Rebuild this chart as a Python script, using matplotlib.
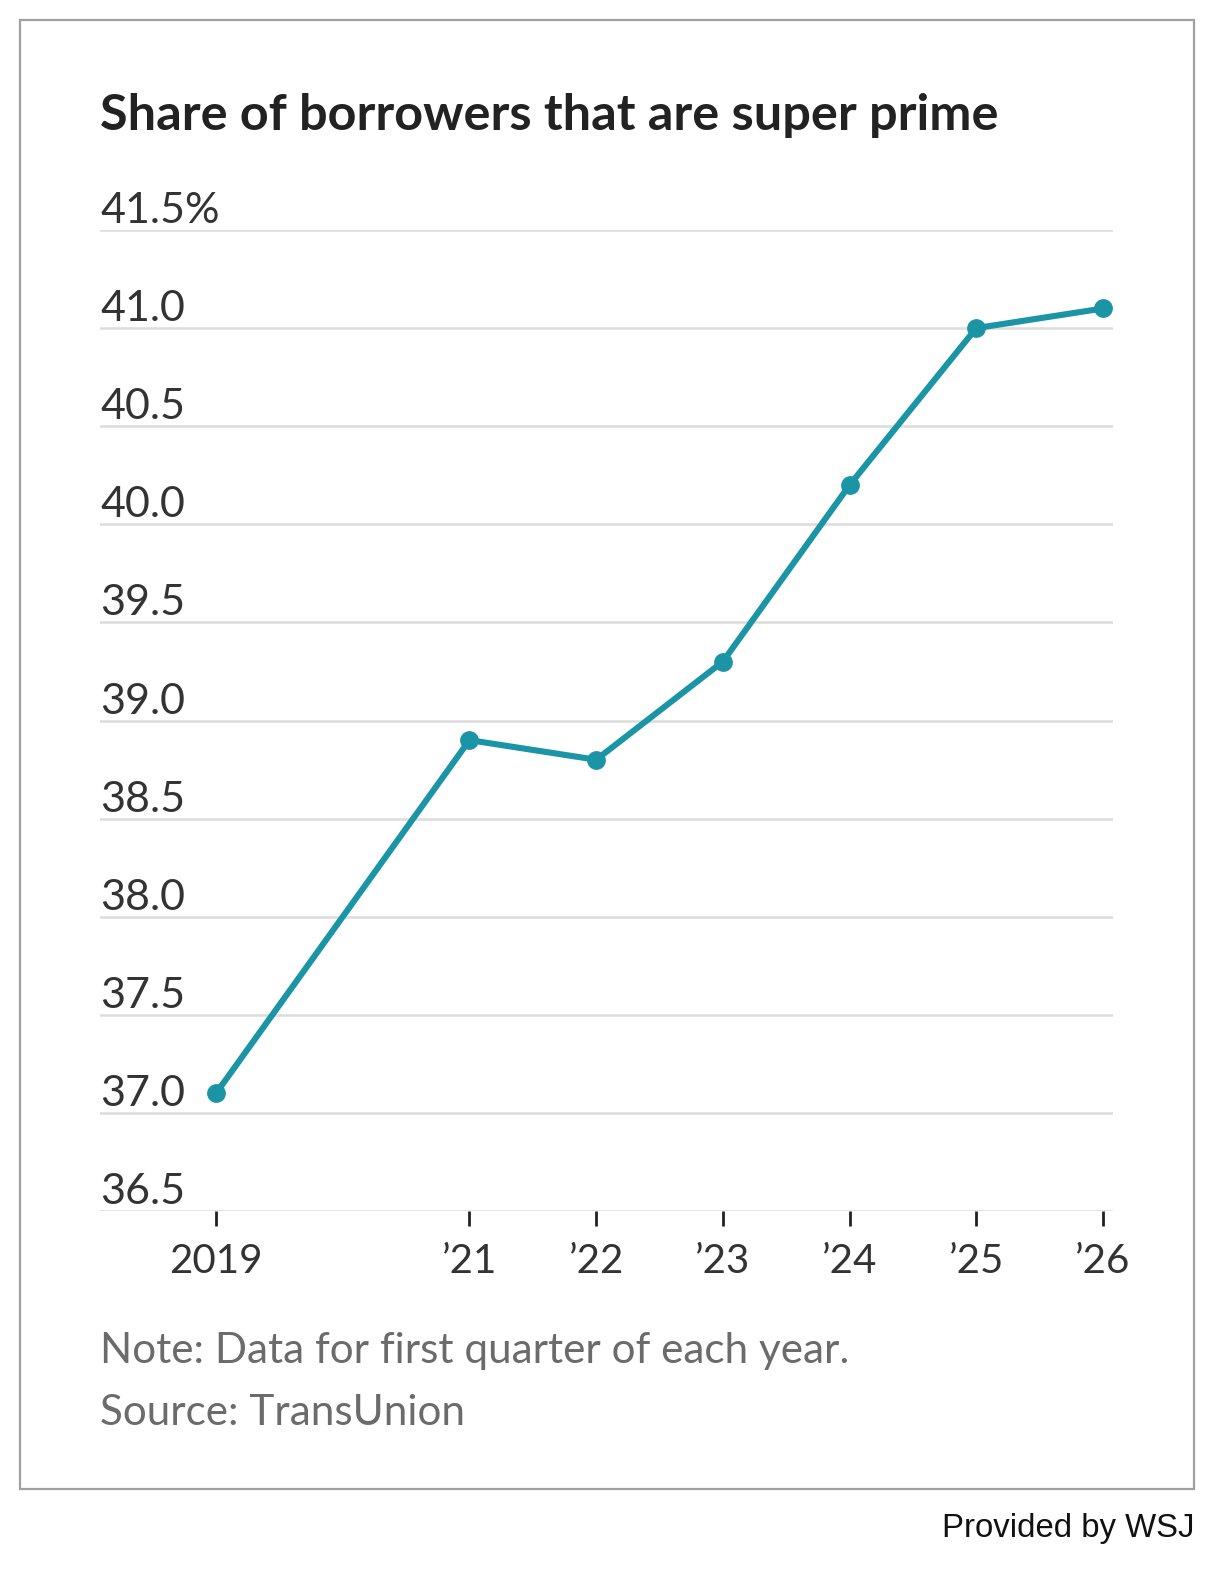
import matplotlib.pyplot as plt
from matplotlib.patches import Rectangle
from matplotlib import transforms

# data (first quarter of each year)
years = [2019, 2021, 2022, 2023, 2024, 2025, 2026]
share = [37.1, 38.9, 38.8, 39.3, 40.2, 41.0, 41.1]
year_labels = ["2019", "\u201921", "\u201922", "\u201923", "\u201924", "\u201925", "\u201926"]
y_ticks = [36.5, 37.0, 37.5, 38.0, 38.5, 39.0, 39.5, 40.0, 40.5, 41.0, 41.5]
y_labels = ["36.5", "37.0", "37.5", "38.0", "38.5", "39.0", "39.5", "40.0", "40.5", "41.0", "41.5%"]

title = "Share of borrowers that are super prime"
note = "Note: Data for first quarter of each year."
source = "Source: TransUnion"
credit = "Provided by WSJ"

W, H = 1228, 1572
FONT = "Lato"
TEAL = "#1b95a6"

fig = plt.figure(figsize=(W / 100, H / 100), dpi=100)

# outer frame
fig.patches.append(Rectangle((20 / W, 1 - 1489 / H), (1194 - 20) / W, (1489 - 20) / H,
                             transform=fig.transFigure, fill=False,
                             edgecolor="#a0a0a0", linewidth=1.6))

ax = fig.add_axes([100 / W, 1 - 1211 / H, (1113 - 100) / W, (1211 - 230) / H])
ax.set_xlim(2018.084, 2026.079)
ax.set_ylim(36.5, 41.5)

for v in y_ticks:
    ax.axhline(v, color="#dcdcdc", linewidth=1.8, zorder=1)

ax.plot(years, share, color=TEAL, linewidth=4.4, marker="o", markersize=12.5,
        solid_joinstyle="round", clip_on=False, zorder=3)

for s in ax.spines.values():
    s.set_visible(False)

ax.set_yticks([])
ax.set_xticks(years)
ax.set_xticklabels(year_labels, fontfamily=FONT, fontsize=29, color="#333333")
ax.tick_params(axis="x", direction="out", length=11, width=2, color="#222222", pad=12)

# y labels sit above their gridlines, flush left
lab_tr = transforms.offset_copy(ax.get_yaxis_transform(), fig=fig, x=0, y=5, units="points")
for v, lab in zip(y_ticks, y_labels):
    ax.text(0, v, lab, transform=lab_tr, ha="left", va="baseline",
            fontfamily=FONT, fontsize=31, color="#333333")

fig.text(100 / W, 1 - 130 / H, title, ha="left", va="baseline",
         fontfamily=FONT, fontweight="bold", fontsize=36.3, color="#222222")
fig.text(100 / W, 1 - 1363 / H, note, ha="left", va="baseline",
         fontfamily=FONT, fontsize=30.4, color="#6b6b6b")
fig.text(100 / W, 1 - 1425 / H, source, ha="left", va="baseline",
         fontfamily=FONT, fontsize=30.4, color="#6b6b6b")
fig.text(1194 / W, 1 - 1537 / H, credit, ha="right", va="baseline",
         fontfamily="Liberation Sans", fontsize=23.7, color="#111111")

fig.savefig("out.png", dpi=100, facecolor="white")
